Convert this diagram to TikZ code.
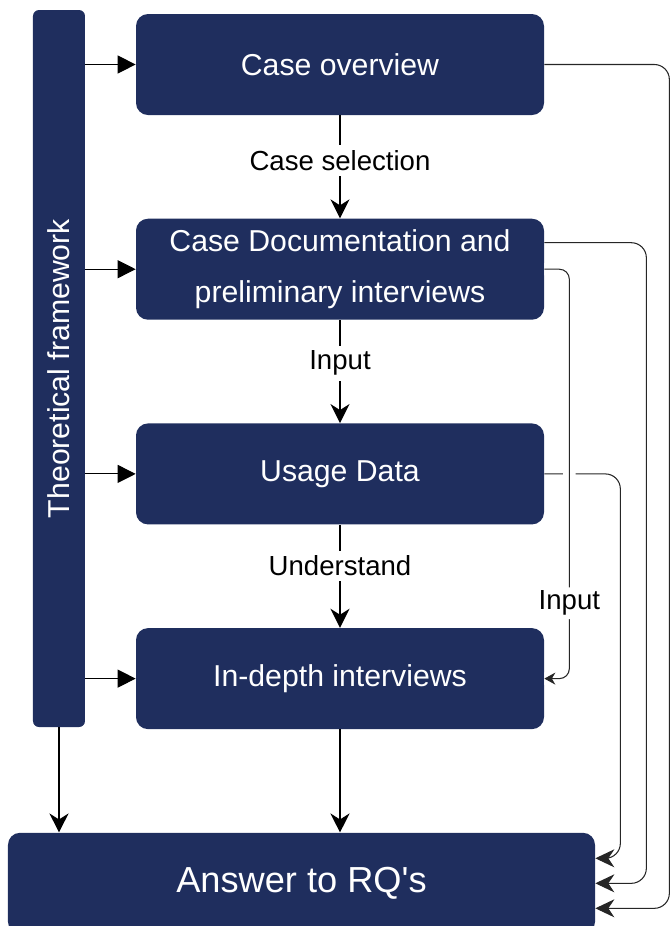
\documentclass[tikz,border=0pt]{standalone}
\usepackage{fontspec}
\setmainfont{Liberation Sans}
\usetikzlibrary{arrows.meta, positioning, calc}
\definecolor{navy}{HTML}{1F2E5E}

\begin{document}
\begin{tikzpicture}[
    stage/.style={
        draw=none,
        fill=navy,
        text=white,
        rounded corners=0.24cm,
        minimum width=8.16cm,
        minimum height=2.02cm,
        align=center,
        font=\fontsize{17.2}{29.5}\selectfont
    },
    frame bar/.style={
        fill=navy,
        text=white,
        rounded corners=0.12cm,
        minimum width=14.34cm,
        minimum height=1.04cm,
        rotate=90,
        font=\fontsize{17.2}{20}\selectfont
    },
    feed arrow/.style={
        -{Triangle[length=3.6mm, width=3.6mm]},
        line width=0.6pt
    },
    flow arrow/.style={
        -{Stealth[length=3.8mm, width=3.8mm, inset=1.2mm]},
        line width=0.9pt
    },
    back arrow/.style={
        -{Stealth[length=3.8mm, width=3.6mm, inset=1.2mm]},
        line width=0.6pt,
        draw=black!85,
        rounded corners=0.3cm
    },
    edge label/.style={
        fill=white,
        inner sep=3pt,
        font=\fontsize{15.7}{18}\selectfont
    }
]
    \useasboundingbox (0,0) rectangle (13.4,-18.52);

    % Steps of the study
    \node[stage] (overview) at (6.8,-1.29) {Case overview};
    \node[stage, below=2.06cm of overview] (doc) {Case Documentation and\\preliminary interviews};
    \node[stage, below=2.06cm of doc] (usage) {Usage Data};
    \node[stage, below=2.06cm of usage] (indepth) {In-depth interviews};

    % Result
    \node[stage, below=2.06cm of indepth, xshift=-0.77cm, minimum width=11.74cm,
          font=\fontsize{20.6}{24}\selectfont] (answer) {Answer to RQ\textquotesingle s};

    % Framework bar (rotated, so .south is its right side and .west its bottom)
    \node[frame bar] (frame) at (1.18,-7.37) {Theoretical framework};

    % --- framework feeds every step ---
    \foreach \s in {overview, doc, usage, indepth}
        \draw[feed arrow] (\s.west -| frame.south) -- (\s.west);
    \draw[flow arrow, line width=0.6pt] (frame.west) -- (frame.west |- answer.north);

    % --- main flow ---
    \draw[flow arrow] (overview) -- node[edge label, pos=0.44] {Case selection} (doc);
    \draw[flow arrow] (doc) -- node[edge label, pos=0.42] {Input} (usage);
    \draw[flow arrow] (usage) -- node[edge label, pos=0.4] {Understand} (indepth);
    \draw[flow arrow, line width=1.2pt] (indepth.south) -- (indepth.south |- answer.north);

    % --- links back to the answer ---
    \draw[back arrow] (overview.east) -- ++(2.5,0) |- ([yshift=-0.5cm]answer.east);
    \draw[back arrow] ([yshift=0.53cm]doc.east) -- ++(2.04,0) |- (answer.east);
    \draw[back arrow] (usage.east) -- ++(1.52,0) |- ([yshift=0.5cm]answer.east);

    % --- documentation as input for the interviews ---
    \draw[back arrow, rounded corners=0.2cm, -{Stealth[length=2.2mm, width=2.4mm, inset=0.7mm]},
          preaction={draw=white, line width=7pt, -}]
        (doc.east) -- ++(0.5,0) |- (indepth.east)
        node[edge label, pos=0.408, inner sep=2pt] {Input};

\end{tikzpicture}
\end{document}
